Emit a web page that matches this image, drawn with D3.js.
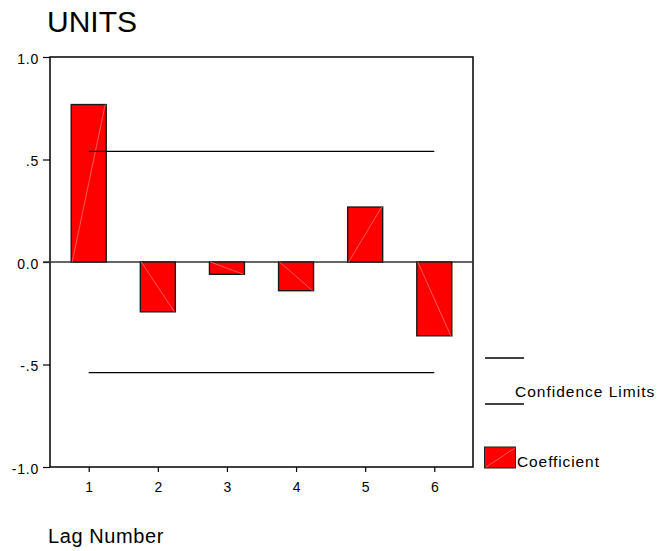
<!DOCTYPE html>
<meta charset="utf-8">
<style>
html,body{ margin:0; background:#fff; }
svg text{ font-family:"Liberation Sans", Arial, sans-serif; fill:#000; }
</style>
<script src="https://d3js.org/d3.v7.min.js"></script>
<body>
<script>

// values
var lags = [1, 2, 3, 4, 5, 6];
var coefficients = [0.768, -0.243, -0.06, -0.14, 0.268, -0.36];
var confLimits = [0.54, -0.54];
var yTicks = [1.0, 0.5, 0.0, -0.5, -1.0];
var yTickLabels = ["1.0", ".5", "0.0", "-.5", "-1.0"];

var width = 665, height = 551;

var svg = d3.select("body").append("svg")
    .attr("width", width)
    .attr("height", height);

// plot box (note: "top" is taken by window.top)
var plotL = 50, plotR = 473, plotT = 57, plotB = 467;

var x = d3.scaleLinear()
    .domain([0.44, 6.56])
    .range([plotL, plotR]);

var y = d3.scaleLinear()
    .domain([-1, 1])
    .range([plotB, plotT]);

var barW = 35;

// title
svg.append("text")
    .attr("x", 47).attr("y", 32)
    .style("font-size", "30px")
    .text("UNITS");

// frame
svg.append("rect")
    .attr("x", plotL).attr("y", plotT)
    .attr("width", plotR - plotL).attr("height", plotB - plotT)
    .attr("fill", "none")
    .attr("stroke", "#000")
    .attr("stroke-width", 1.5);

// y axis
var yAxis = d3.axisLeft(y)
    .tickValues(yTicks)
    .tickSize(7)
    .tickPadding(4)
    .tickFormat(function(d, i){ return yTickLabels[i]; });

var gy = svg.append("g")
    .attr("transform", "translate(" + plotL + ",0)")
    .call(yAxis);
gy.select(".domain").remove();
gy.selectAll("line").attr("stroke", "#000").attr("stroke-width", 1.2);
gy.selectAll("text")
    .style("font-size", "14px")
    .style("letter-spacing", "0.8px")
    .attr("dy", "0.45em")
    .attr("font-family", null);

// x axis
var xAxis = d3.axisBottom(x)
    .tickValues(lags)
    .tickSize(5)
    .tickPadding(10)
    .tickFormat(d3.format("d"));

var gx = svg.append("g")
    .attr("transform", "translate(0," + plotB + ")")
    .call(xAxis);
gx.select(".domain").remove();
gx.selectAll("line").attr("stroke", "#000").attr("stroke-width", 1.2);
gx.selectAll("text").style("font-size", "14px").attr("font-family", null);

// zero line
svg.append("line")
    .attr("x1", plotL - 7).attr("x2", plotR)
    .attr("y1", y(0)).attr("y2", y(0))
    .attr("stroke", "#333")
    .attr("stroke-width", 1.5);

// bars
var bars = svg.selectAll(".bar")
    .data(coefficients)
    .enter().append("g")
    .attr("class", "bar");

bars.append("rect")
    .attr("x", function(d, i){ return x(lags[i]) - barW / 2; })
    .attr("y", function(d){ return y(Math.max(0, d)); })
    .attr("width", barW)
    .attr("height", function(d){ return Math.abs(y(d) - y(0)); })
    .attr("fill", "#ff0000")
    .attr("stroke", "#1a1a1a")
    .attr("stroke-width", 1.4);

// faint diagonal inside each bar
bars.append("line")
    .attr("x1", function(d, i){ return x(lags[i]) - barW / 2 + 1; })
    .attr("y1", y(0))
    .attr("x2", function(d, i){ return x(lags[i]) + barW / 2 - 1; })
    .attr("y2", function(d){ return y(d); })
    .attr("stroke", "#ff7070")
    .attr("stroke-width", 0.8);

// confidence limits
svg.selectAll(".conf")
    .data(confLimits)
    .enter().append("line")
    .attr("class", "conf")
    .attr("x1", x(lags[0]))
    .attr("x2", x(lags[lags.length - 1]))
    .attr("y1", function(d){ return y(d); })
    .attr("y2", function(d){ return y(d); })
    .attr("stroke", "#000")
    .attr("stroke-width", 1.3);

// x label
svg.append("text")
    .attr("x", 48).attr("y", 543)
    .style("font-size", "20px")
    .style("letter-spacing", "0.6px")
    .text("Lag Number");

// legend
var lg = svg.append("g");
lg.append("line")
    .attr("x1", 485).attr("x2", 524)
    .attr("y1", 358).attr("y2", 358)
    .attr("stroke", "#000").attr("stroke-width", 1.3);
lg.append("line")
    .attr("x1", 485).attr("x2", 524)
    .attr("y1", 404).attr("y2", 404)
    .attr("stroke", "#000").attr("stroke-width", 1.3);
lg.append("text")
    .attr("x", 515).attr("y", 397)
    .style("font-size", "15.5px")
    .style("letter-spacing", "1px")
    .text("Confidence Limits");

lg.append("rect")
    .attr("x", 484.5).attr("y", 447)
    .attr("width", 31).attr("height", 21)
    .attr("fill", "#ff0000")
    .attr("stroke", "#222").attr("stroke-width", 1);
lg.append("line")
    .attr("x1", 486).attr("y1", 467)
    .attr("x2", 515).attr("y2", 448)
    .attr("stroke", "#ff7070").attr("stroke-width", 0.8);
lg.append("text")
    .attr("x", 517).attr("y", 467)
    .style("font-size", "15.5px")
    .style("letter-spacing", "0.9px")
    .text("Coefficient");

</script>
</body>
</html>
